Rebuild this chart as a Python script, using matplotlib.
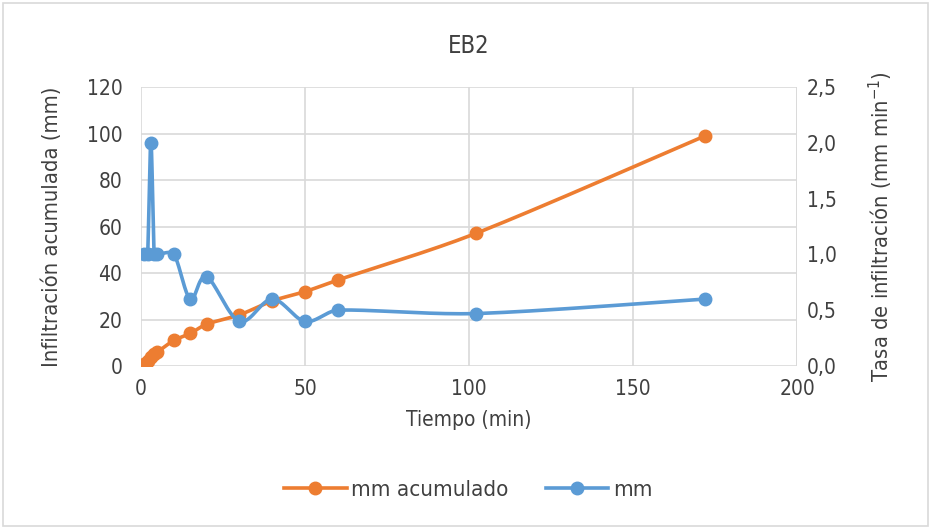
import matplotlib
matplotlib.use("Agg")
import matplotlib.pyplot as plt
from matplotlib.lines import Line2D
from matplotlib.patches import Rectangle
import numpy as np

plt.rcParams['font.family'] = ['DejaVu Sans']
plt.rcParams['font.stretch'] = 'condensed'
plt.rcParams['mathtext.fontset'] = 'custom'
plt.rcParams['mathtext.rm'] = 'DejaVu Sans:stretch=condensed'

# Ensayo de infiltración EB2
tiempo = [1, 2, 3, 4, 5, 10, 15, 20, 30, 40, 50, 60, 102, 172]          # min
mm_acumulado = [1, 2, 4, 5, 6, 11, 14, 18, 22, 28, 32, 37, 57, 99]        # mm
mm_tasa = [1.0, 1.0, 2.0, 1.0, 1.0, 1.0, 0.6, 0.8, 0.4, 0.6, 0.4, 0.5, 0.47, 0.6]  # mm/min

ORANGE = '#ED7D31'
BLUE = '#5B9BD5'
GRID = '#D9D9D9'
TEXT = '#404040'


def smooth_line(x, y, sx, sy, n=30):
    """Curva suavizada (Bezier tipo Catmull-Rom) calculada en escala de pantalla."""
    px = np.asarray(x, float) * sx
    py = np.asarray(y, float) * sy
    pts = np.column_stack([px, py])
    out = [pts[0]]
    t = np.linspace(0, 1, n)[1:, None]
    for i in range(len(pts) - 1):
        p0 = pts[i - 1] if i > 0 else pts[i]
        p1, p2 = pts[i], pts[i + 1]
        p3 = pts[i + 2] if i + 2 < len(pts) else pts[i + 1]
        seg_len = np.hypot(*(p2 - p1))
        d1 = (p2 - p0) / 6.0
        d2 = (p3 - p1) / 6.0
        # limitar las tangentes para que no se pase en tramos cortos
        for d in (d1, d2):
            L = np.hypot(*d)
            if L > seg_len / 3.0 and L > 0:
                d *= (seg_len / 3.0) / L
        c1 = p1 + d1
        c2 = p2 - d2
        seg = ((1 - t) ** 3) * p1 + 3 * ((1 - t) ** 2) * t * c1 + 3 * (1 - t) * t ** 2 * c2 + t ** 3 * p2
        out.extend(seg)
    out = np.array(out)
    return out[:, 0] / sx, out[:, 1] / sy


fig = plt.figure(figsize=(9.31, 5.28), dpi=100)
fig.patches.append(Rectangle((0.003, 0.004), 0.994, 0.99, transform=fig.transFigure,
                             fill=False, edgecolor=GRID, linewidth=1.2))

ax1 = fig.add_axes([0.1515, 0.3068, 0.7046, 0.5284])
ax2 = ax1.twinx()

xmax, y1max, y2max = 200, 120, 2.5
w_px, h_px = 656, 279

ax1.set_xlim(0, xmax)
ax1.set_ylim(0, y1max)
ax2.set_ylim(0, y2max)

ax1.set_xticks([0, 50, 100, 150, 200])
ax1.set_yticks(np.arange(0, 121, 20))
ax2.set_yticks(np.arange(0, 2.51, 0.5))
ax2.set_yticklabels([f'{v:.1f}'.replace('.', ',') for v in np.arange(0, 2.51, 0.5)])

ax1.grid(True, color=GRID, linewidth=1.2)
ax1.set_axisbelow(True)
for ax in (ax1, ax2):
    for s in ax.spines.values():
        s.set_visible(False)
    ax.tick_params(length=0, labelsize=15, colors=TEXT)
ax1.tick_params(axis='y', pad=13.5)
ax1.tick_params(axis='x', pad=9)
ax2.tick_params(axis='y', pad=7)
ax1.axvline(xmax, color=GRID, linewidth=1.2, zorder=0)

# Infiltración acumulada
xs, ys = smooth_line(tiempo, mm_acumulado, w_px / xmax, h_px / y1max)
ax1.plot(xs, ys, color=ORANGE, linewidth=2.6, solid_capstyle='round', zorder=3)
ax1.plot(tiempo, mm_acumulado, 'o', color=ORANGE, markersize=9, zorder=4)

# Tasa de infiltración
xs, ys = smooth_line(tiempo, mm_tasa, w_px / xmax, h_px / y2max)
ax2.plot(xs, ys, color=BLUE, linewidth=2.6, solid_capstyle='round', zorder=3)
ax2.plot(tiempo, mm_tasa, 'o', color=BLUE, markersize=9, zorder=4)

ax1.set_xlabel('Tiempo (min)', fontsize=15, color=TEXT, labelpad=8)
ax1.set_ylabel('Infiltración acumulada (mm)', fontsize=15.8, color=TEXT, labelpad=17.5)
ax2.set_ylabel('Tasa de infiltración (mm min$^{-1}$)', fontsize=15.7, color=TEXT, labelpad=21.5)
fig.text(0.503, 0.913, 'EB2', ha='center', va='center', fontsize=17, color=TEXT)

handles = [Line2D([], [], color=ORANGE, linewidth=2.6, marker='o', markersize=9),
           Line2D([], [], color=BLUE, linewidth=2.6, marker='o', markersize=9)]
fig.legend(handles, ['mm acumulado', 'mm'], loc='center', bbox_to_anchor=(0.503, 0.072),
           ncol=2, frameon=False, fontsize=16, handlelength=2.8, handletextpad=0.2,
           columnspacing=1.7, labelcolor=TEXT)

fig.savefig('out.png', dpi=100)
